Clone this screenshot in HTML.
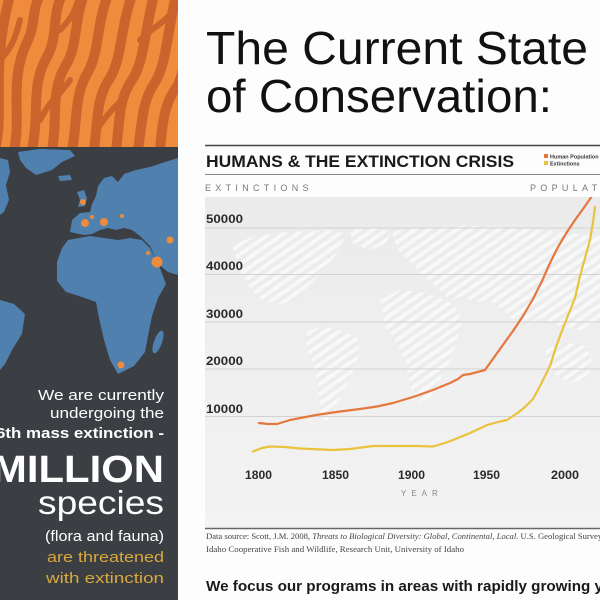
<!DOCTYPE html>
<html><head><meta charset="utf-8"><style>
html,body{margin:0;padding:0;background:#fdfdfd;}
svg{display:block;}
</style></head><body>
<svg width="600" height="600" viewBox="0 0 600 600" xmlns="http://www.w3.org/2000/svg">
<defs>
<pattern id="wav" width="8" height="8" patternUnits="userSpaceOnUse" patternTransform="rotate(-35)">
<rect width="8" height="8" fill="#ececec"/>
<rect width="8" height="4" fill="#f8f8f8"/>
</pattern>
<linearGradient id="bg" x1="0" y1="0" x2="0" y2="1">
<stop offset="0" stop-color="#ebebeb"/><stop offset="1" stop-color="#f3f3f3"/>
</linearGradient>
<clipPath id="tig"><rect x="0" y="0" width="178" height="147"/></clipPath>
<clipPath id="chart"><rect x="205" y="197" width="395" height="331"/></clipPath>
</defs>
<rect width="600" height="600" fill="#fdfdfd"/>

<!-- tiger panel -->
<g clip-path="url(#tig)">
<rect x="0" y="0" width="178" height="147" fill="#f08a3d"/>
<g fill="none" stroke="#c9652c" stroke-width="10" stroke-linecap="round">
<path d="M-5 150 C5 110 -10 70 10 -5"/>
<path d="M14 150 C22 115 8 80 28 40 C35 25 32 10 40 -5"/>
<path d="M32 150 C40 110 30 85 48 55 C58 35 52 15 62 -5"/>
<path d="M52 150 C58 120 50 90 66 65 C78 45 74 20 84 -5"/>
<path d="M72 150 C78 118 74 95 88 72 C100 50 96 25 108 -5"/>
<path d="M94 150 C98 120 96 98 110 78 C122 58 120 30 132 -5"/>
<path d="M116 150 C120 122 118 100 132 80 C144 62 144 35 154 -5"/>
<path d="M138 150 C142 124 142 102 154 84 C166 66 166 40 176 -5"/>
<path d="M160 150 C162 126 164 104 176 88 C186 72 186 45 196 -5"/>
</g>
<g fill="none" stroke="#c9652c" stroke-width="6" stroke-linecap="round">
<path d="M0 60 C10 50 15 40 20 20"/>
<path d="M40 120 C50 100 60 95 70 80"/>
<path d="M100 125 C110 110 118 105 126 95"/>
<path d="M140 40 C150 30 160 25 170 15"/>
<path d="M60 30 C70 20 75 12 78 0"/>
</g>
</g>

<!-- dark map panel -->
<rect x="0" y="147" width="178" height="453" fill="#3b3e42"/>
<g fill="#4f80ae">
<polygon points="18,152 40,149 70,150 75,156 62,162 52,170 36,175 26,168 20,160"/>
<polygon points="58,176 70,175 72,180 60,181"/>
<polygon points="0,158 8,160 10,172 6,185 9,200 4,212 0,215"/>
<polygon points="77,192 84,190 87,198 85,206 78,207 80,200"/>
<polygon points="70,232 72,220 80,213 90,212 92,204 96,196 98,186 104,178 112,176 118,182 124,174 136,170 150,167 165,162 178,158 178,250 170,254 160,249 150,246 140,236 132,230 124,228 116,230 108,228 100,230 92,234 84,235"/>
<polygon points="68,240 90,236 104,238 118,240 130,238 142,240 150,248 160,268 166,284 158,298 152,316 148,336 145,352 134,366 118,374 110,360 104,340 99,318 96,302 82,297 66,292 57,281 57,262 62,248"/>
<polygon points="150,246 165,250 178,248 178,275 168,272 158,264"/>
<polygon points="0,300 14,304 25,314 22,334 12,350 5,364 0,370"/>
<ellipse cx="158" cy="342" rx="4" ry="12" transform="rotate(20 158 342)"/>
</g>
<g fill="#f08a3d">
<circle cx="83" cy="202" r="3"/>
<circle cx="85" cy="223" r="4"/>
<circle cx="104" cy="222" r="4"/>
<circle cx="92" cy="217" r="2"/>
<circle cx="122" cy="216" r="2"/>
<circle cx="170" cy="240" r="3.5"/>
<circle cx="157" cy="262" r="5.5"/>
<circle cx="148" cy="253" r="2"/>
<circle cx="121" cy="365" r="3.5"/>
</g>

<!-- left panel text -->
<g font-family="Liberation Sans, sans-serif" text-anchor="end">
<text x="164" y="400" font-size="15" fill="#ffffff" textLength="126" lengthAdjust="spacingAndGlyphs">We are currently</text>
<text x="164" y="418" font-size="15" fill="#ffffff" textLength="114" lengthAdjust="spacingAndGlyphs">undergoing the</text>
<text x="164" y="438" font-size="15" font-weight="bold" fill="#ffffff" textLength="168" lengthAdjust="spacingAndGlyphs">6th mass extinction -</text>
<text x="164" y="482" font-size="38" font-weight="bold" fill="#ffffff" textLength="172" lengthAdjust="spacingAndGlyphs">MILLION</text>
<text x="164" y="514" font-size="33" fill="#ffffff" textLength="126" lengthAdjust="spacingAndGlyphs">species</text>
<text x="164" y="541" font-size="15" fill="#ffffff" textLength="119" lengthAdjust="spacingAndGlyphs">(flora and fauna)</text>
<text x="164" y="562" font-size="15" fill="#d9a83e" textLength="117" lengthAdjust="spacingAndGlyphs">are threatened</text>
<text x="164" y="583" font-size="15" fill="#d9a83e" textLength="118" lengthAdjust="spacingAndGlyphs">with extinction</text>
</g>

<!-- title -->
<g font-family="Liberation Sans, sans-serif" fill="#111">
<text x="206" y="64" font-size="46" textLength="382" lengthAdjust="spacingAndGlyphs">The Current State</text>
<text x="206" y="112" font-size="46" textLength="346" lengthAdjust="spacingAndGlyphs">of Conservation:</text>
</g>

<!-- chart header -->
<line x1="205" y1="145.5" x2="600" y2="145.5" stroke="#444" stroke-width="1.5"/>
<text x="206" y="167" font-family="Liberation Sans, sans-serif" font-size="17" font-weight="bold" fill="#1a1a1a" textLength="308" lengthAdjust="spacingAndGlyphs">HUMANS &amp; THE EXTINCTION CRISIS</text>
<rect x="544" y="154" width="4" height="4" fill="#e8743a"/>
<rect x="544" y="161" width="4" height="4" fill="#e9c23e"/>
<text x="550" y="158.5" font-family="Liberation Sans, sans-serif" font-size="5.5" font-weight="bold" fill="#333">Human Population</text>
<text x="550" y="165.5" font-family="Liberation Sans, sans-serif" font-size="5.5" font-weight="bold" fill="#333">Extinctions</text>
<line x1="205" y1="174.5" x2="600" y2="174.5" stroke="#888" stroke-width="1"/>
<text x="205" y="191" font-family="Liberation Sans, sans-serif" font-size="9" fill="#777" letter-spacing="4.3">EXTINCTIONS</text>
<text x="530" y="191" font-family="Liberation Sans, sans-serif" font-size="9" fill="#777" letter-spacing="4.3">POPULATION</text>

<!-- chart body -->
<rect x="205" y="197" width="395" height="331" fill="url(#bg)"/>
<g clip-path="url(#chart)" fill="url(#wav)">
<polygon points="232,245 255,236 290,232 330,230 345,234 340,250 330,262 318,276 305,290 296,300 280,304 262,300 250,288 240,270 236,258"/>
<polygon points="350,230 372,228 392,232 385,245 368,250 352,242"/>
<polygon points="308,330 325,326 345,332 360,340 358,360 350,378 340,398 332,412 326,423 320,410 318,385 312,360 306,345"/>
<polygon points="392,232 420,228 470,226 520,228 560,232 600,236 600,320 580,330 560,326 540,318 525,326 512,318 500,308 490,300 475,302 462,296 450,300 440,290 430,282 420,272 410,262 400,252 395,242"/>
<polygon points="380,300 400,290 420,292 440,298 455,305 462,320 458,340 450,360 440,380 430,398 418,402 410,385 405,360 395,340 385,325"/>
<polygon points="545,350 565,342 585,346 592,360 588,378 575,382 560,378 548,368"/>
</g>
<g stroke="#d2d2d2" stroke-width="1">
<line x1="205" y1="228" x2="600" y2="228"/>
<line x1="205" y1="274.5" x2="600" y2="274.5"/>
<line x1="205" y1="322" x2="600" y2="322"/>
<line x1="205" y1="369" x2="600" y2="369"/>
<line x1="205" y1="416.5" x2="600" y2="416.5"/>
</g>
<g font-family="Liberation Sans, sans-serif" font-size="11.5" font-weight="bold" fill="#2a2a2a">
<text x="206" y="223" textLength="37" lengthAdjust="spacingAndGlyphs">50000</text>
<text x="206" y="270" textLength="37" lengthAdjust="spacingAndGlyphs">40000</text>
<text x="206" y="318" textLength="37" lengthAdjust="spacingAndGlyphs">30000</text>
<text x="206" y="365" textLength="37" lengthAdjust="spacingAndGlyphs">20000</text>
<text x="206" y="413" textLength="37" lengthAdjust="spacingAndGlyphs">10000</text>
</g>
<g font-family="Liberation Sans, sans-serif" font-size="11.5" font-weight="bold" fill="#2a2a2a">
<text x="245" y="479" textLength="27" lengthAdjust="spacingAndGlyphs">1800</text>
<text x="322" y="479" textLength="27" lengthAdjust="spacingAndGlyphs">1850</text>
<text x="398" y="479" textLength="27" lengthAdjust="spacingAndGlyphs">1900</text>
<text x="473" y="479" textLength="27" lengthAdjust="spacingAndGlyphs">1950</text>
<text x="551" y="479" textLength="28" lengthAdjust="spacingAndGlyphs">2000</text>
</g>
<text x="401" y="496" font-family="Liberation Sans, sans-serif" font-size="8" fill="#888" letter-spacing="5">YEAR</text>

<g clip-path="url(#chart)" fill="none" stroke-linejoin="round" stroke-linecap="round">
<polyline stroke="#e5773f" stroke-width="2.2" points="259,423 268,424 277,424 290,420 316,415 340,411.5 360,409 377,406.5 393,403 413,397 433,390 450,383 458,379 463,375 470,374 485,370 500,349 513,331 523,316 533,299 542,281 550,263 558,247 567,232 575,220 583,209 592,196 600,186"/>
<polyline stroke="#e9c23e" stroke-width="2.2" points="253,451.5 262,448 270,446.5 285,447 300,448.5 333,450 350,449 373,446 395,446 417,446 433,446.5 445,443 453,440 470,433 487,425 498,422 507,420 519,412 527,405 533,399 540,386 545,376 550,366 556,347 563,328 569,313 575,298 580,276 585,258 590,240 593,222 595,207"/>
</g>
<line x1="205" y1="528.5" x2="600" y2="528.5" stroke="#666" stroke-width="1.5"/>

<!-- source -->
<g font-family="Liberation Serif, serif" font-size="8.6" fill="#444">
<text x="206" y="539">Data source: Scott, J.M. 2008, <tspan font-style="italic">Threats to Biological Diversity: Global, Continental, Local.</tspan> U.S. Geological Survey</text>
<text x="206" y="552" textLength="258" lengthAdjust="spacingAndGlyphs">Idaho Cooperative Fish and Wildlife, Research Unit, University of Idaho</text>
</g>
<text x="206" y="591" font-family="Liberation Sans, sans-serif" font-size="15" font-weight="bold" fill="#1a1a1a" textLength="397" lengthAdjust="spacingAndGlyphs">We focus our programs in areas with rapidly growing y</text>
</svg>
</body></html>
